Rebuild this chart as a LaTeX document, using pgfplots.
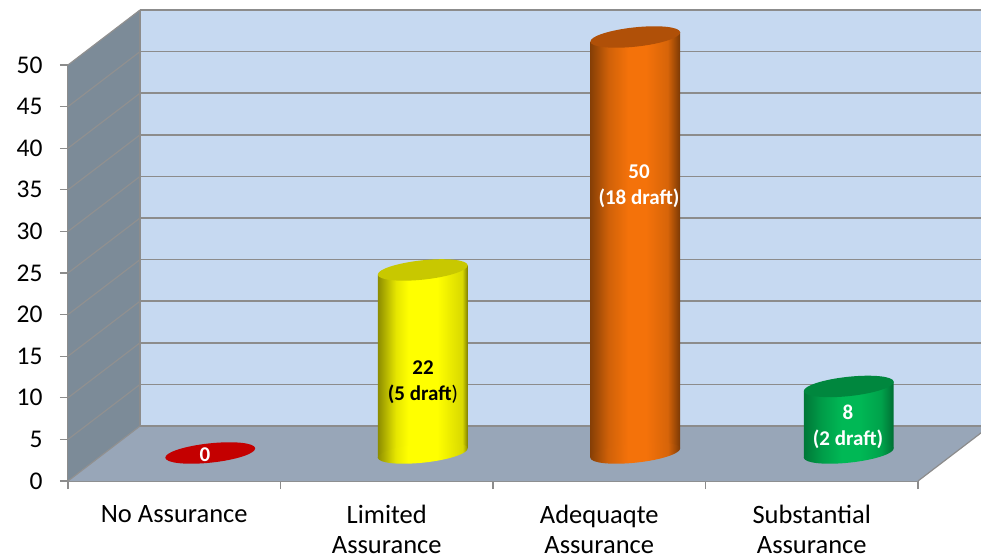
\documentclass[border=0pt]{standalone}
\usepackage{fontspec}
\setmainfont{Carlito}
\usepackage{pgfplots}
\pgfplotsset{compat=1.18}

\definecolor{wallback}{HTML}{C6D9F1}
\definecolor{wallside}{HTML}{7C8B98}
\definecolor{wallfloor}{HTML}{98A6B8}
\definecolor{gridgray}{HTML}{8C8C8C}
\definecolor{sidegrid}{HTML}{909090}

% cylinder side shadings
\pgfdeclarehorizontalshading{cylY}{100bp}{color(0bp)=(black!45!yellow); color(25bp)=(black!45!yellow); color(35bp)=(black!10!yellow); color(42bp)=(yellow); color(58bp)=(yellow); color(72bp)=(black!15!yellow); color(75bp)=(black!50!yellow); color(100bp)=(black!50!yellow)}
\definecolor{orangemain}{HTML}{F4720A}
\pgfdeclarehorizontalshading{cylO}{100bp}{color(0bp)=(black!45!orangemain); color(25bp)=(black!45!orangemain); color(35bp)=(black!15!orangemain); color(46bp)=(orangemain); color(56bp)=(orangemain); color(68bp)=(black!12!orangemain); color(75bp)=(black!50!orangemain); color(100bp)=(black!50!orangemain)}
\definecolor{greenmain}{HTML}{00B855}
\pgfdeclarehorizontalshading{cylG}{100bp}{color(0bp)=(black!35!greenmain); color(25bp)=(black!35!greenmain); color(35bp)=(black!15!greenmain); color(46bp)=(greenmain); color(56bp)=(greenmain); color(68bp)=(black!12!greenmain); color(75bp)=(black!40!greenmain); color(100bp)=(black!40!greenmain)}

% cylinder ends, tilted ellipses
\newcommand{\tiltell}{\pgfextra{\pgfpathellipse{\pgfpointorigin}{\pgfqpoint{44.95pt}{4.8pt}}{\pgfqpoint{-1.0pt}{9.6pt}}}}
\pgfdeclareplotmark{capY}{\path[draw=none,fill={rgb,255:red,200;green,200;blue,0}] \tiltell;}
\pgfdeclareplotmark{capO}{\path[draw=none,fill={rgb,255:red,176;green,80;blue,8}] \tiltell;}
\pgfdeclareplotmark{capG}{\path[draw=none,fill={rgb,255:red,0;green,135;blue,62}] \tiltell;}
\pgfdeclareplotmark{capR}{\path[draw=none,fill={rgb,255:red,196;green,0;blue,0}] \tiltell;}
\pgfdeclareplotmark{baseY}{\path[draw=none,shading=cylY] \tiltell;}
\pgfdeclareplotmark{baseO}{\path[draw=none,shading=cylO] \tiltell;}
\pgfdeclareplotmark{baseG}{\path[draw=none,shading=cylG] \tiltell;}

\begin{document}
\begin{tikzpicture}
\path[use as bounding box,clip] (-68pt,-78pt) rectangle (913pt,481pt);
\begin{axis}[
    at={(0pt,0pt)}, anchor=south west,
    scale only axis,
    width=850pt, height=416pt,
    xmin=-0.5, xmax=3.5, ymin=0, ymax=50,
    clip=false,
    axis x line*=bottom, axis y line*=left,
    axis line style={gridgray,line width=1.3pt,-},
    tick style={gridgray,line width=1.2pt},
    tick align=outside,
    major tick length=8pt,
    ytick={0,5,...,50},
    xtick={-0.5,0.5,1.5,2.5,3.5},
    xticklabels={},
    extra x ticks={0,1,2,3},
    extra x tick labels={No Assurance,{Limited\\Assurance},{Adequaqte\\Assurance},{Substantial\\Assurance}},
    extra x tick style={major tick length=0pt,
      xticklabel style={align=center,anchor=north,inner sep=0pt,yshift=-23.8pt}},
    xticklabel style={font=\fontsize{26.5}{30}\selectfont,text=black},
    yticklabel style={font=\fontsize{25.5}{30}\selectfont,text=black,xshift=-14pt},
    /pgf/number format/assume math mode=true,
  ]
  % walls and floor
  \addplot[fill=wallside,draw=none] coordinates {(-0.5,0)(-0.161,6.61)(-0.161,56.61)(-0.5,50)} --cycle;
  \addplot[fill=wallfloor,draw=none] coordinates {(-0.5,0)(3.5,0)(3.839,6.61)(-0.161,6.61)} --cycle;
  \addplot[fill=wallback,draw=none] coordinates {(-0.161,6.61)(3.839,6.61)(3.839,56.61)(-0.161,56.61)} --cycle;
  % grid on the side wall and the back wall
  \pgfplotsinvokeforeach{5,10,...,50}{
    \addplot[sidegrid,line width=1.2pt] coordinates {(-0.5,#1)(-0.161,#1+6.61)};
    \addplot[gridgray,line width=1.7pt] coordinates {(-0.161,#1+6.61)(3.839,#1+6.61)};
  }
  \addplot[sidegrid,line width=1.2pt] coordinates {(-0.5,0)(-0.161,6.61)};
  \addplot[gridgray,line width=1.2pt] coordinates {(-0.161,6.61)(3.839,6.61)};
  \addplot[gridgray,line width=1.2pt] coordinates {(-0.161,6.61)(-0.161,56.61)};
  \addplot[gridgray,line width=1.2pt] coordinates {(3.5,0)(3.839,6.61)};

  % cylinders
  \addplot[only marks,mark=capR,xshift=36pt,yshift=28pt] coordinates {(0,0)};

  \addplot[only marks,mark=baseY,xshift=36pt,yshift=28pt] coordinates {(1,0)};
  \addplot[ybar,bar width=89.8pt,bar shift=0pt,draw=none,shading=cylY,
    xshift=36pt,yshift=-7.06pt,yslant=0.11] coordinates {(1,22)};
  \addplot[only marks,mark=capY,xshift=36pt,yshift=28pt] coordinates {(1,22)};

  \addplot[only marks,mark=baseO,xshift=36pt,yshift=28pt] coordinates {(2,0)};
  \addplot[ybar,bar width=89.8pt,bar shift=0pt,draw=none,shading=cylO,
    xshift=36pt,yshift=-30.44pt,yslant=0.11] coordinates {(2,50)};
  \addplot[only marks,mark=capO,xshift=36pt,yshift=28pt] coordinates {(2,50)};

  \addplot[only marks,mark=baseG,xshift=37pt,yshift=28pt] coordinates {(3,0)};
  \addplot[ybar,bar width=89.8pt,bar shift=0pt,draw=none,shading=cylG,
    xshift=37pt,yshift=-53.81pt,yslant=0.11] coordinates {(3,8)};
  \addplot[only marks,mark=capG,xshift=37pt,yshift=28pt] coordinates {(3,8)};
\end{axis}
% value labels
\begin{scope}[every node/.style={font=\fontsize{21}{26}\selectfont\bfseries,align=center}]
  \node[text=white] at (137pt,26pt) {0};
  \node[text=black] at (355pt,99pt) {22\\(5 draft\textnormal{)}};
  \node[text=white] at (571pt,295pt) {50\\(18 draft)};
  \node[text=white] at (780pt,54pt) {8\\(2 draft)};
\end{scope}
\end{tikzpicture}
\end{document}
